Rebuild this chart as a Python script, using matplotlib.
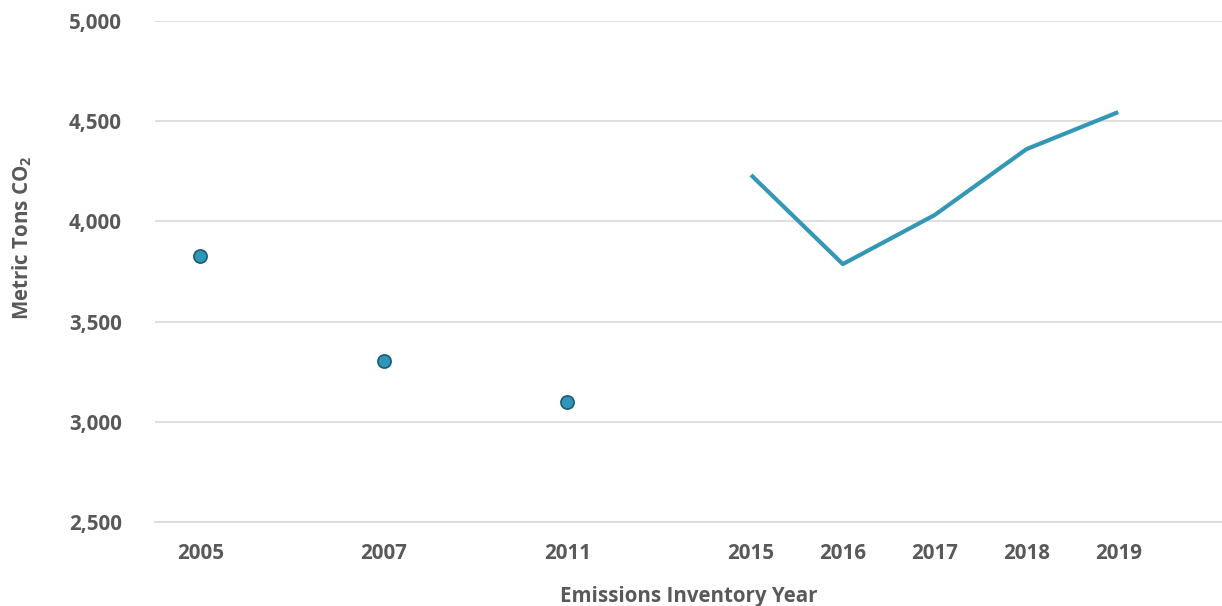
import matplotlib.pyplot as plt

# Emissions data (metric tons CO2)
point_years = ['2005', '2007', '2011']
point_values = [3827, 3305, 3097]
line_years = ['2015', '2016', '2017', '2018', '2019']
line_values = [4232, 3787, 4032, 4361, 4546]

all_years = point_years + line_years
# category slots (blank slots between early inventory years)
slots = [0, 2, 4, 6, 7, 8, 9, 10]
slot_of = dict(zip(all_years, slots))

plt.rcParams['font.family'] = ['Open Sans', 'DejaVu Sans']
plt.rcParams['mathtext.fontset'] = 'custom'
plt.rcParams['mathtext.rm'] = 'Open Sans'
plt.rcParams['mathtext.bf'] = 'Open Sans:bold'

txt = '#595959'
fs = 14.8
fig = plt.figure(figsize=(12.22, 6.06), dpi=100)
ax = fig.add_axes([0.127, 0.139, 0.873, 0.826])

ax.scatter([slot_of[y] for y in point_years], point_values, s=90,
           color='#2E96B8', edgecolor='#1C5A73', linewidth=1.2, zorder=3)
ax.plot([slot_of[y] for y in line_years], line_values, color='#3597B6',
        lw=3, solid_capstyle='butt', zorder=3)

ax.set_ylim(2500, 5000)
ax.set_xlim(-0.49, 11.13)
ax.set_yticks(range(2500, 5001, 500))
ax.set_yticklabels([f'{v:,}' for v in range(2500, 5001, 500)])
ax.set_xticks(slots)
ax.set_xticklabels(all_years)

ax.grid(axis='y', color='#D9D9D9', lw=1.2)
ax.set_axisbelow(True)
for s in ['top', 'right', 'left']:
    ax.spines[s].set_visible(False)
ax.spines['bottom'].set_color('#D9D9D9')
ax.spines['bottom'].set_linewidth(1.2)
ax.tick_params(length=0, labelsize=fs, labelcolor=txt)
ax.tick_params(axis='y', pad=24)
ax.tick_params(axis='x', pad=15)
for lab in ax.get_xticklabels() + ax.get_yticklabels():
    lab.set_fontweight('bold')

ax.set_xlabel('Emissions Inventory Year', fontsize=fs, fontweight='bold',
              color=txt, labelpad=16)
ax.set_ylabel(r'Metric Tons CO$_\mathbf{2}$', fontsize=fs, fontweight='bold',
              color=txt)
ax.yaxis.set_label_coords(-0.114, 0.567)

fig.savefig('out.png', dpi=100)
